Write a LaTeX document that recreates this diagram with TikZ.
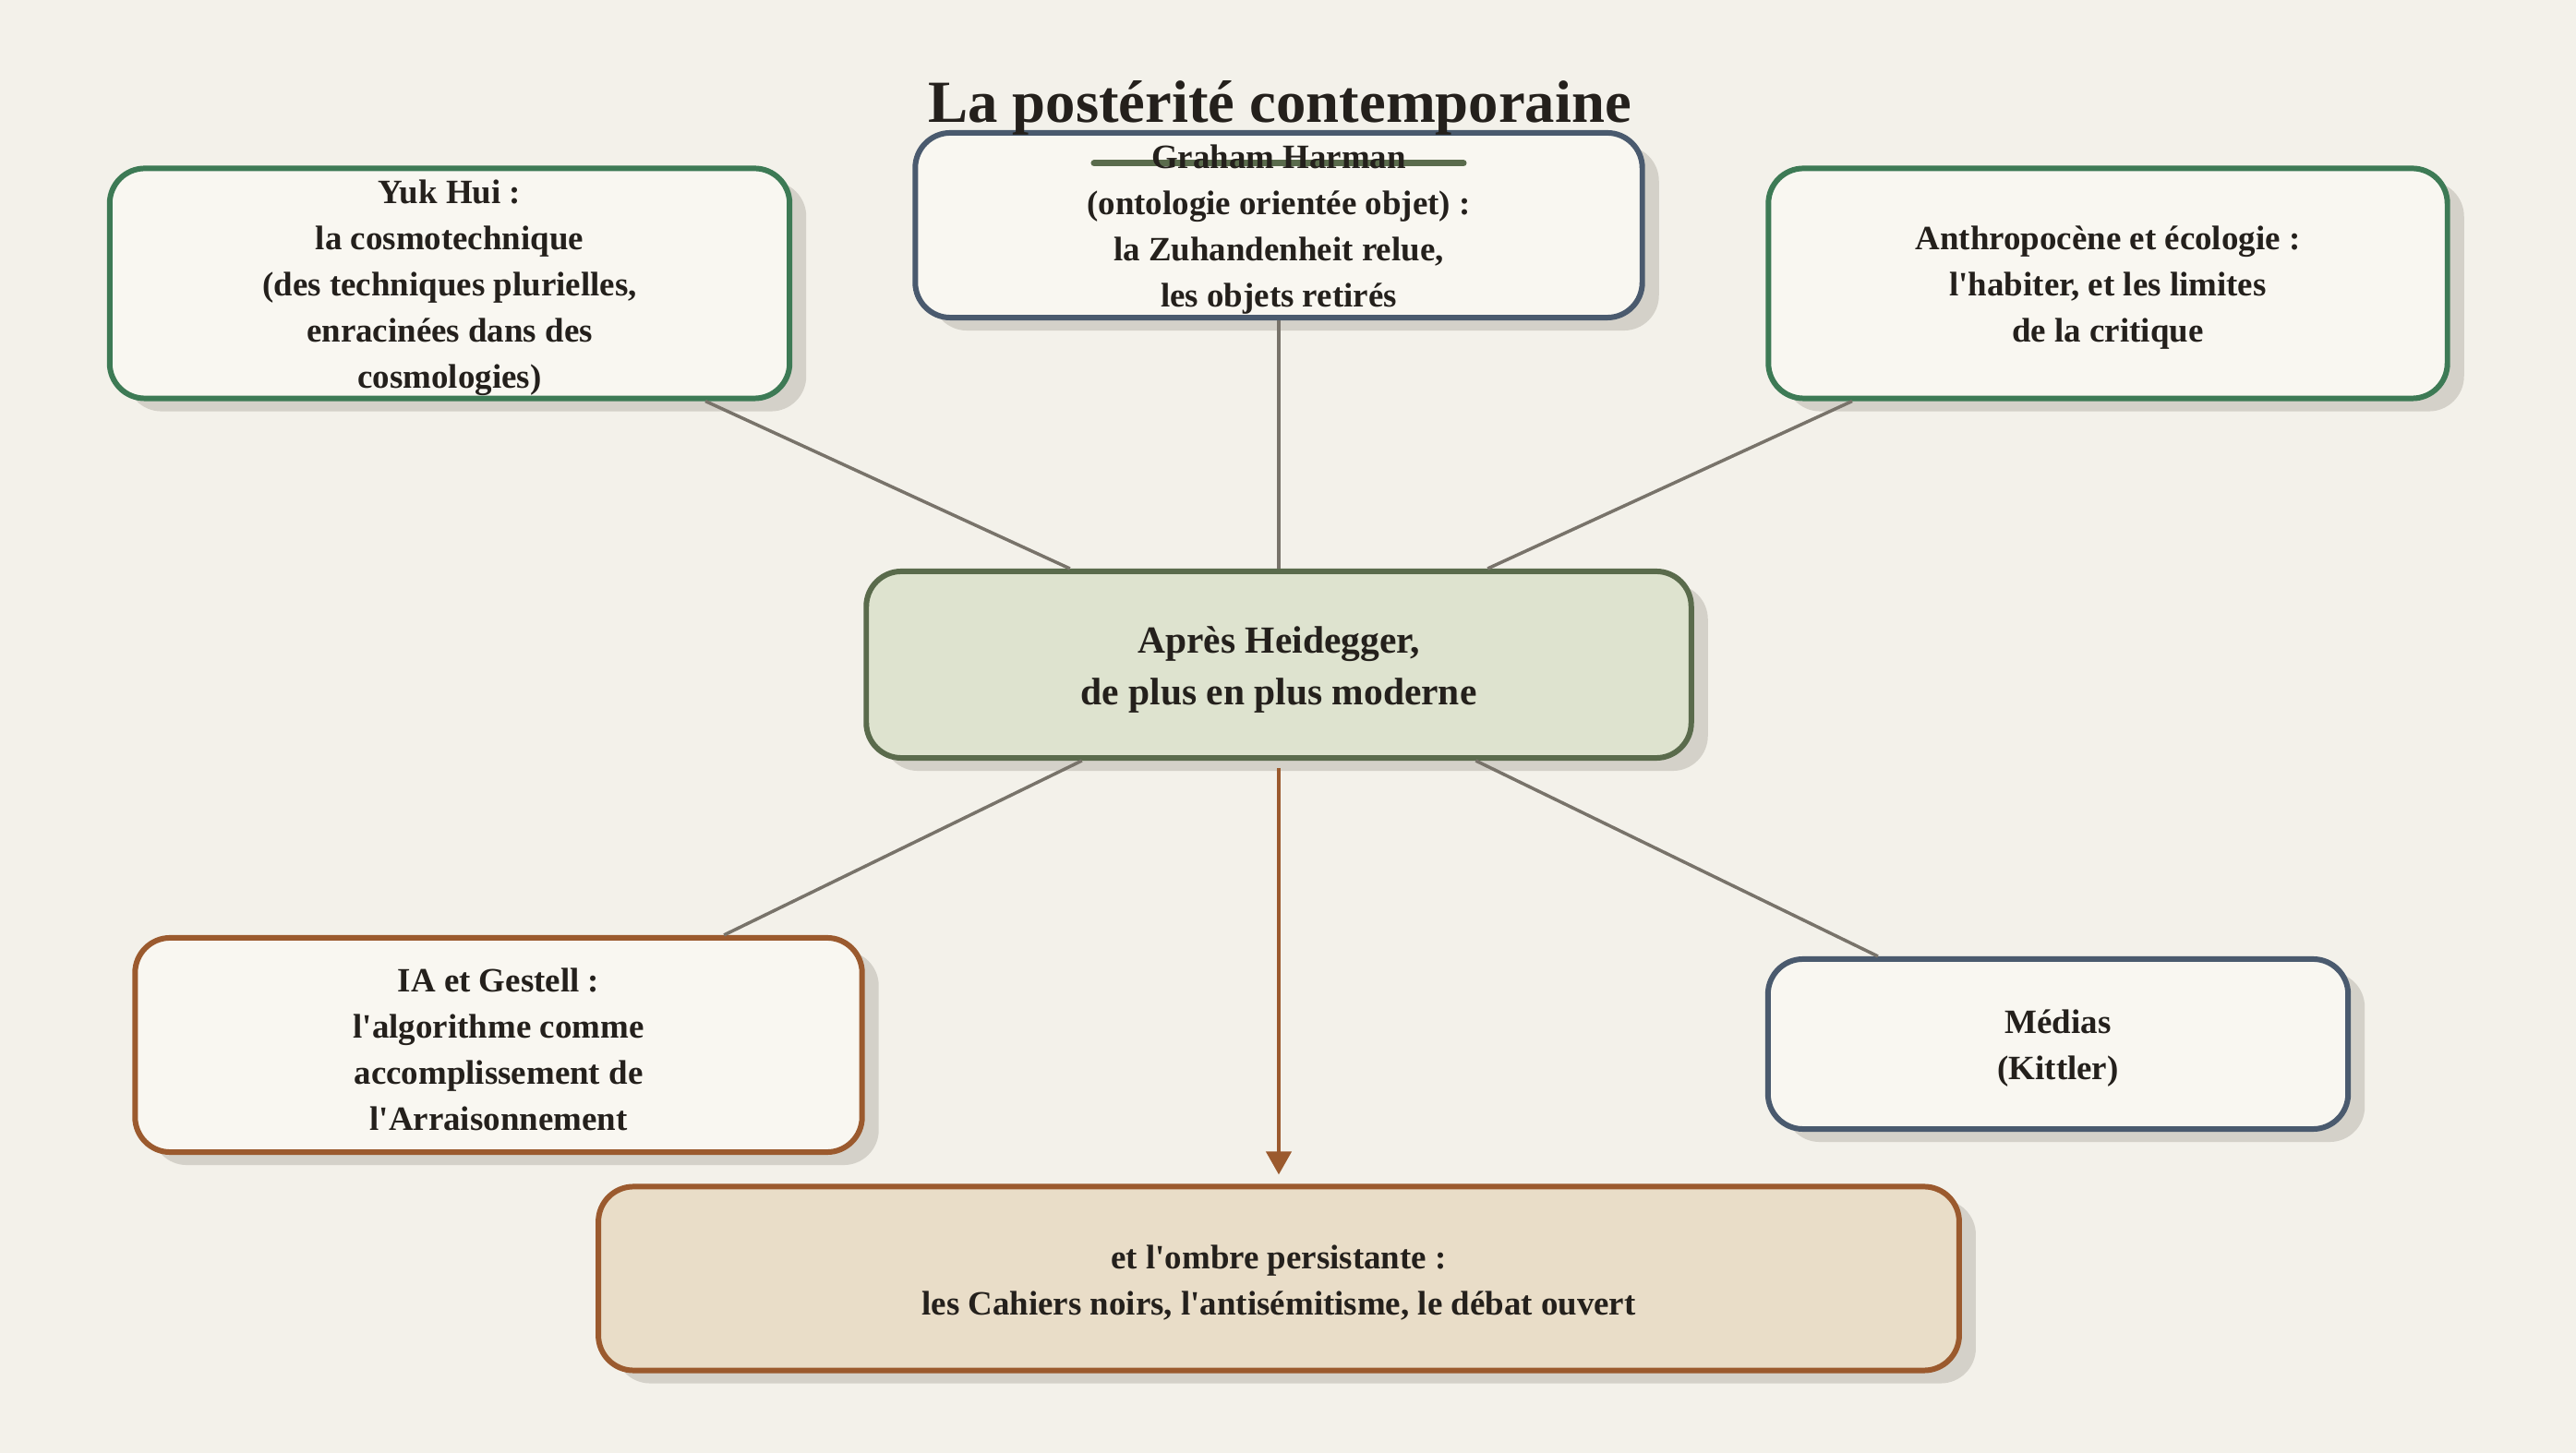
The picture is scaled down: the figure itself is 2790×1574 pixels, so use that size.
\documentclass[tikz,border=0pt]{standalone}
\usepackage{fontspec}
\setmainfont{Liberation Serif}
\usetikzlibrary{arrows.meta,shadows,calc}
\definecolor{bgc}{HTML}{F3F1EA}
\definecolor{boxfill}{HTML}{F9F7F1}
\definecolor{greenb}{HTML}{3D7A55}
\definecolor{slateb}{HTML}{4A5A6E}
\definecolor{centerfill}{HTML}{DEE3CF}
\definecolor{centerb}{HTML}{5A6B4C}
\definecolor{brownb}{HTML}{9B5A2E}
\definecolor{bottomfill}{HTML}{E9DDC8}
\definecolor{shadowc}{HTML}{D4D1C9}
\definecolor{connc}{HTML}{78736A}
\definecolor{ink}{HTML}{24201C}
\newcommand\myq{\textquotesingle}
\begin{document}
\begin{tikzpicture}[x=0.01cm,y=-0.01cm,
  box/.style={draw, rounded corners=0.38cm, line width=1.7pt, fill=boxfill,
    align=center, inner sep=0pt, text=ink,
    font=\bfseries\fontsize{10.5}{14.2}\selectfont,
    drop shadow={shadow xshift=0.18cm, shadow yshift=-0.14cm, fill=shadowc, opacity=1}},
  conn/.style={draw=connc, line width=1pt},
  arr/.style={draw=brownb, line width=1.2pt, -{Triangle[width=0.27cm,length=0.25cm]},
    shorten <=0.08cm, shorten >=0.1cm},
  titleline/.style={draw=centerb, line width=2pt, line cap=round}]
\useasboundingbox (0,0) rectangle (2790,1574);
\fill[bgc] (0,0) rectangle (2790,1574);

\node[box, draw=greenb, minimum width=7.36cm, minimum height=2.49cm] (yuk) at (487,307)
  {\strut Yuk Hui :\\la cosmotechnique\\(des techniques plurielles,\\enracinées dans des\\cosmologies)};
\node[box, draw=slateb, minimum width=7.87cm, minimum height=2.0cm,
  path picture={\draw[titleline] ($(path picture bounding box.north)+(-200,33)$) -- ($(path picture bounding box.north)+(200,33)$);}] (harman) at (1385,244)
  {\strut Graham Harman\\(ontologie orientée objet) :\\la Zuhandenheit relue,\\les objets retirés};
\node[box, draw=greenb, minimum width=7.35cm, minimum height=2.49cm] (anthro) at (2283,307)
  {\strut Anthropocène et écologie :\\l\myq habiter, et les limites\\de la critique};
\node[box, draw=centerb, fill=centerfill, minimum width=8.93cm, minimum height=2.02cm,
  font=\bfseries\fontsize{11.8}{16.2}\selectfont] (center) at (1385,720)
  {\strut Après Heidegger,\\de plus en plus moderne};
\node[box, draw=brownb, minimum width=7.87cm, minimum height=2.32cm] (ia) at (540,1132)
  {\strut IA et Gestell :\\l\myq algorithme comme\\accomplissement de\\l\myq Arraisonnement};
\node[box, draw=slateb, minimum width=6.28cm, minimum height=1.84cm] (medias) at (2229,1131)
  {\strut Médias\\(Kittler)};
\node[box, draw=brownb, fill=bottomfill, minimum width=14.73cm, minimum height=1.99cm] (bottom) at (1385,1385)
  {\strut et l\myq ombre persistante :\\les Cahiers noirs, l\myq antisémitisme, le débat ouvert};

\node[anchor=base, inner sep=0pt, text=ink, font=\bfseries\fontsize{18.4}{20}\selectfont] (title) at (1386,133)
  {La postérité contemporaine};

\draw[conn] (yuk) -- (center);
\draw[conn] (harman) -- (center);
\draw[conn] (anthro) -- (center);
\draw[conn] (ia) -- (center);
\draw[conn] (medias) -- (center);
\draw[arr] (center.south) -- (bottom.north);
\end{tikzpicture}
\end{document}
